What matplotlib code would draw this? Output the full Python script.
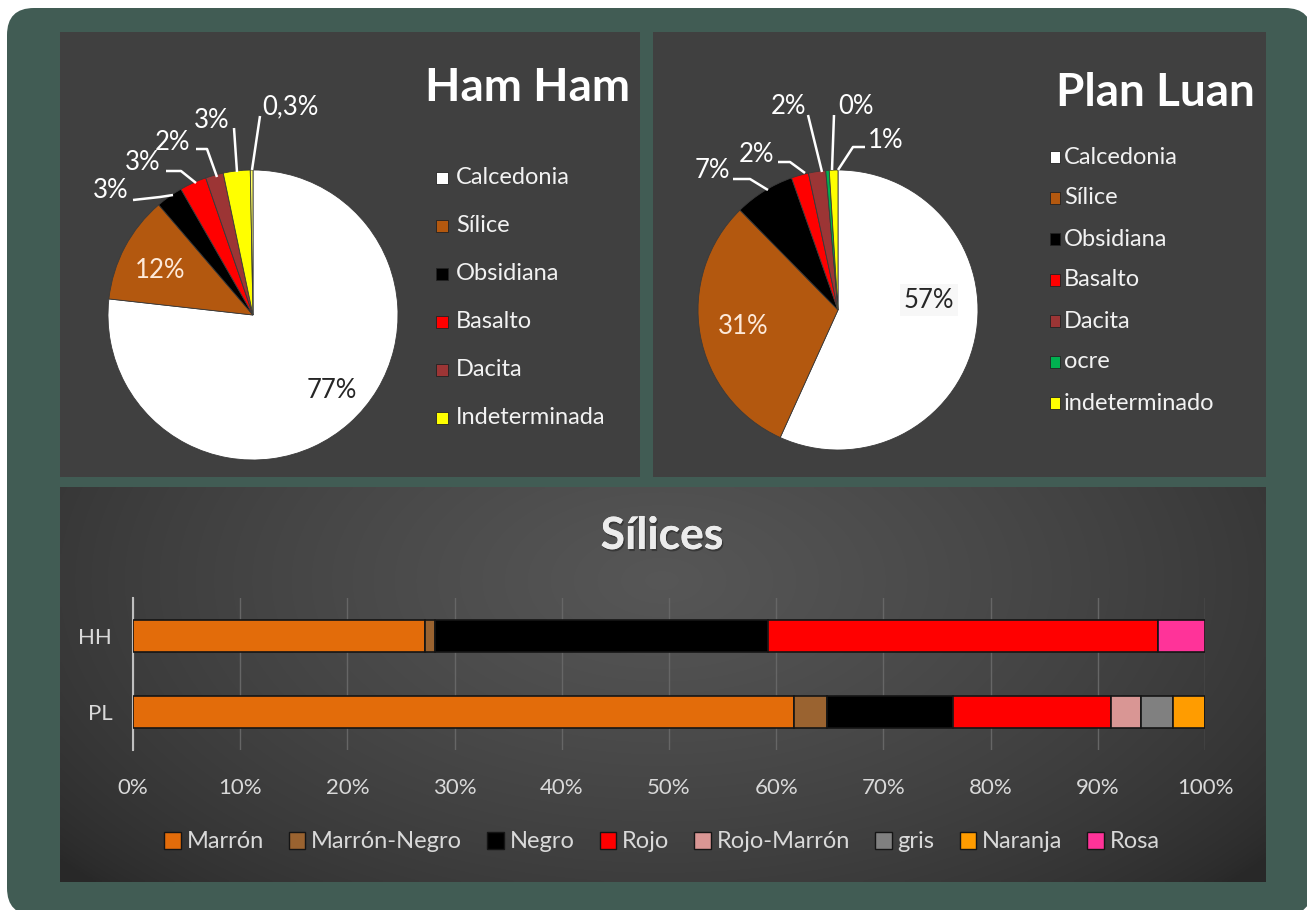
import matplotlib
matplotlib.use("Agg")
import matplotlib.pyplot as plt
import numpy as np
from matplotlib.patches import Rectangle, FancyBboxPatch, Patch
from matplotlib.ticker import FuncFormatter
import matplotlib.patheffects as pe

plt.rcParams['font.family'] = ['Lato', 'DejaVu Sans']

W, H = 1307, 910

# ---------------- data ----------------
hh_title = "Ham Ham"
hh_cats = ["Calcedonia", "Sílice", "Obsidiana", "Basalto", "Dacita", "Indeterminada"]
hh_vals = [77, 12, 3, 3, 2, 3, 0.3]
hh_labels = ["77%", "12%", "3%", "3%", "2%", "3%", "0,3%"]
hh_colors = ["#ffffff", "#b3580f", "#000000", "#ff0000", "#9c3535", "#ffff00", "#ffff66"]

pl_title = "Plan Luan"
pl_cats = ["Calcedonia", "Sílice", "Obsidiana", "Basalto", "Dacita", "ocre", "indeterminado"]
pl_vals = [57, 31, 7, 2, 2, 0.4, 1]
pl_labels = ["57%", "31%", "7%", "2%", "2%", "0%", "1%"]
pl_colors = ["#ffffff", "#b3580f", "#000000", "#ff0000", "#9c3535", "#00b050", "#ffff00"]

sil_title = "Sílices"
sil_sites = ["HH", "PL"]
sil_cats = ["Marrón", "Marrón-Negro", "Negro", "Rojo", "Rojo-Marrón", "gris", "Naranja", "Rosa"]
sil_hh = [27.2, 1.0, 31.0, 36.4, 0, 0, 0, 4.4]
sil_pl = [61.7, 3.0, 11.8, 14.7, 2.8, 3.0, 3.0, 0]
sil_colors = ["#e36c0a", "#9a6330", "#000000", "#ff0000", "#d99694", "#808080", "#ff9c00", "#ff3399"]
xtick_vals = [0, 10, 20, 30, 40, 50, 60, 70, 80, 90, 100]

# ---------------- figure ----------------
fig = plt.figure(figsize=(W / 100, H / 100), dpi=100)
fig.patch.set_facecolor("white")
bg = fig.add_axes([0, 0, 1, 1])
bg.axis("off")


def Y(y):
    return H - y


# outer rounded frame
bg.add_patch(FancyBboxPatch((7, Y(915)), 1305, 907,
                            boxstyle="round,pad=0,rounding_size=27",
                            facecolor="#415c54", edgecolor="none", zorder=0))
# top panels
bg.add_patch(Rectangle((60, Y(477)), 580, 445, facecolor="#404040", edgecolor="none", zorder=1))
bg.add_patch(Rectangle((653, Y(477)), 613, 445, facecolor="#404040", edgecolor="none", zorder=1))

# bottom gradient panel
gx0, gx1, gy0, gy1 = 60, 1266, 487, 882
xs = np.linspace(gx0, gx1, 400)
ys = np.linspace(gy0, gy1, 150)
XX, YY = np.meshgrid(xs, ys)
r = np.sqrt(((XX - 662) / 780.0) ** 2 + ((YY - 580) / 440.0) ** 2)
t = np.clip(1 - r, 0, 1)
val = 0.16 + (0.34 - 0.16) * t ** 0.7
img = np.dstack([val, val, val])
bg.imshow(img, extent=(gx0, gx1, Y(gy1), Y(gy0)), origin="upper", aspect="auto",
          zorder=1, interpolation="bilinear")

# ---------------- pies ----------------
wp = dict(edgecolor="#3a3a3a", linewidth=0.6)
bg.pie(hh_vals, colors=hh_colors, startangle=90, counterclock=False,
       center=(253, Y(315)), radius=145, wedgeprops=wp, frame=True)
bg.pie(pl_vals, colors=pl_colors, startangle=90, counterclock=False,
       center=(838, Y(310)), radius=140, wedgeprops=wp, frame=True)

bg.set_xlim(0, W)
bg.set_ylim(0, H)
bg.set_aspect("auto")
bg.axis("off")

lab_fs = 18.5
# Ham Ham labels
hh_pos = [(332, 390), (160, 271), (111, 191), (143, 162), (173, 142), (212, 120), (290, 107)]
hh_lcol = ["#262626", "#fde9d9", "white", "white", "white", "white", "white"]
for (x, y), s, c in zip(hh_pos, hh_labels, hh_lcol):
    bg.text(x, Y(y), s, color=c, fontsize=lab_fs, ha="center", va="center", zorder=5)
hh_lines = [
    [(133, 200), (160, 197), (173, 195)],
    [(166, 171), (181, 171), (196, 183)],
    [(196, 149), (207, 149), (217, 177)],
    [(234, 128), (237, 172)],
    [(260, 116), (252, 170)],
]
for pts in hh_lines:
    px, py = zip(*pts)
    bg.plot(px, [Y(v) for v in py], color="white", lw=1.8, zorder=5, solid_capstyle="butt")

# Plan Luan labels
pl_pos = [(929, 300), (743, 326), (712, 170), (756, 155), (788, 106), (856, 106), (886, 141)]
pl_lcol = ["#262626", "#fde9d9", "white", "white", "white", "white", "white"]
for i, ((x, y), s, c) in enumerate(zip(pl_pos, pl_labels, pl_lcol)):
    kw = {}
    if i == 0:
        kw["bbox"] = dict(boxstyle="square,pad=0.15", facecolor="#f7f7f7", edgecolor="none")
    bg.text(x, Y(y), s, color=c, fontsize=lab_fs, ha="center", va="center", zorder=5, **kw)
pl_lines = [
    [(733, 179), (750, 179), (768, 190)],
    [(778, 162), (790, 162), (805, 173)],
    [(808, 115), (822, 172)],
    [(834, 115), (832, 170)],
    [(865, 147), (853, 147), (838, 170)],
]
for pts in pl_lines:
    px, py = zip(*pts)
    bg.plot(px, [Y(v) for v in py], color="white", lw=1.8, zorder=5, solid_capstyle="butt")

# titles
bg.text(528, Y(88), hh_title, color="white", fontsize=33, fontweight="bold",
        ha="center", va="center", zorder=5)
bg.text(1155, Y(93), pl_title, color="white", fontsize=33, fontweight="bold",
        ha="center", va="center", zorder=5)

# pie legends
leg_fs = 17
for i, (name, col) in enumerate(zip(hh_cats, hh_colors)):
    yc = 178 + i * 48
    bg.add_patch(Rectangle((436, Y(yc) - 6), 12, 12, facecolor=col, edgecolor="#222222",
                           lw=0.6, zorder=5))
    bg.text(456, Y(yc), name, color="#f2f2f2", fontsize=leg_fs, ha="left", va="center", zorder=5)
for i, (name, col) in enumerate(zip(pl_cats, pl_colors)):
    yc = 157 + i * 41
    bg.add_patch(Rectangle((1050, Y(yc) - 6), 10, 12, facecolor=col, edgecolor="#222222",
                           lw=0.6, zorder=5))
    bg.text(1064, Y(yc), name, color="#f2f2f2", fontsize=leg_fs, ha="left", va="center", zorder=5)

# ---------------- bar chart ----------------
ax = fig.add_axes([133 / W, 1 - 750 / H, 1072 / W, 152 / H])
ax.set_facecolor("none")
ypos = [1, 0]
left = np.zeros(2)
for j, (cat, col) in enumerate(zip(sil_cats, sil_colors)):
    vals = np.array([sil_hh[j], sil_pl[j]])
    ax.barh(ypos, vals, left=left, height=0.42, color=col, edgecolor="#151515",
            linewidth=1.2, zorder=3, label=cat)
    left += vals
ax.set_xlim(0, 100)
ax.set_ylim(-0.5, 1.5)
ax.set_yticks(ypos)
ax.set_yticklabels(sil_sites)
ax.set_xticks(xtick_vals)
ax.xaxis.set_major_formatter(FuncFormatter(lambda v, p: f"{v:.0f}%"))
ax.grid(axis="x", color="#666666", lw=1.0, zorder=0)
for s in ["top", "right", "bottom"]:
    ax.spines[s].set_visible(False)
ax.spines["left"].set_color("#bfbfbf")
ax.spines["left"].set_linewidth(1.5)
ax.tick_params(axis="x", length=0, pad=20, labelsize=16, labelcolor="#d9d9d9")
ax.tick_params(axis="y", length=0, pad=15, labelsize=16, labelcolor="#d9d9d9")

bg.text(662, Y(536), sil_title, color="#ececec", fontsize=32, fontweight="bold",
        ha="center", va="center", zorder=5,
        path_effects=[pe.withSimplePatchShadow(offset=(1, -1.5), shadow_rgbFace="#1e1e1e", alpha=0.5),
                      pe.Normal()])

handles = [Patch(facecolor=c, edgecolor="#151515", lw=1.0) for c in sil_colors]
fig.legend(handles, sil_cats, loc="center", bbox_to_anchor=(662 / W, 1 - 842 / H), ncol=8,
           frameon=False, fontsize=17, labelcolor="#d9d9d9", handlelength=0.7,
           handleheight=0.7, handletextpad=0.25, columnspacing=1.06)

fig.savefig("out.png", dpi=100, facecolor="white")
